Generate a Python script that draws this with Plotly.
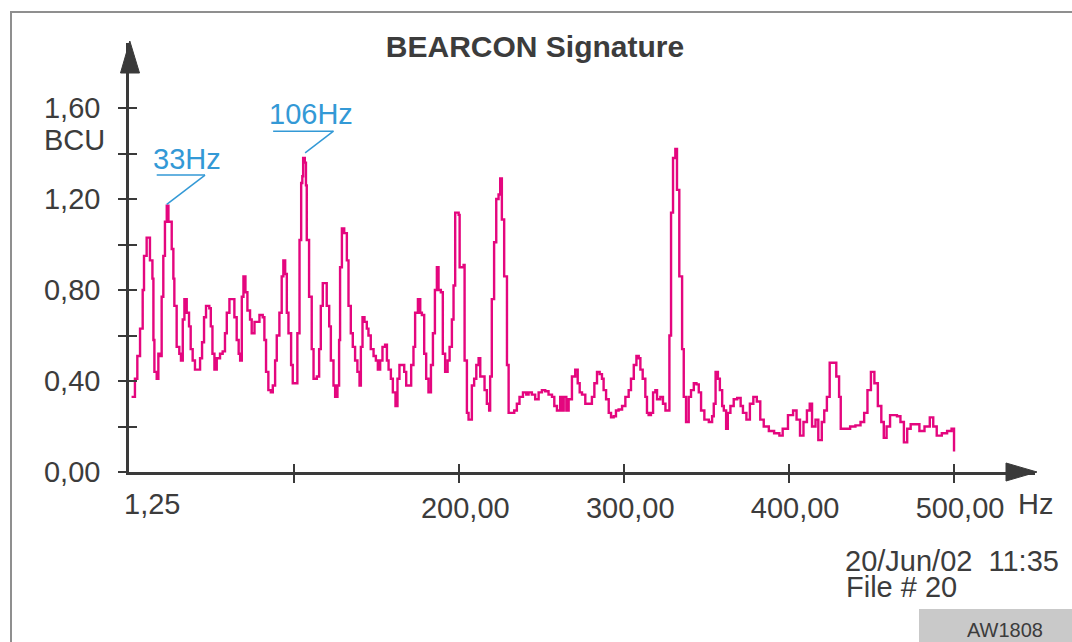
import plotly.graph_objects as go

# ---------------- data ----------------
freq_hz = [
    1.25, 2.3, 3.3, 4.75, 6.4, 8.0, 8.8, 10.4, 12.4, 13.9, 14.5, 15.1, 16.5, 17.5, 18.5, 19.5,
    20.5, 21.5, 22.6, 23.6, 24.6, 25.6, 26.6, 27.2, 28.6, 30.2, 31.2, 32.3, 33.3, 34.7, 36.1,
    37.1, 38.3, 39.7, 41.8, 42.8, 44.0, 45.2, 46.4, 48.4, 49.3, 50.3, 51.5, 52.9, 54.9, 56.5,
    57.9, 59.0, 60.6, 62.0, 63.6, 65.0, 66.2, 67.1, 68.1, 69.1, 70.3, 71.5, 73.1, 74.1, 75.8,
    77.2, 78.8, 80.8, 81.8, 82.8, 84.2, 85.7, 86.9, 88.3, 89.3, 90.9, 92.3, 93.3, 94.4, 95.4,
    96.4, 98.0, 99.0, 100.4, 101.8, 103.1, 104.1, 104.8, 105.3, 106.3, 107.0, 107.5, 108.9,
    110.5, 111.6, 113.6, 115.0, 116.0, 117.2, 118.6, 119.6, 121.1, 122.1, 123.7, 124.7, 126.1,
    127.1, 127.7, 128.8, 130.2, 131.8, 132.8, 134.2, 135.4, 136.8, 138.2, 139.5, 140.3, 141.3,
    142.5, 143.9, 144.9, 146.3, 148.0, 149.4, 150.6, 152.0, 153.4, 155.0, 156.1, 157.1, 158.5,
    159.7, 161.3, 162.5, 163.7, 165.2, 166.6, 167.8, 169.4, 170.8, 172.2, 173.2, 174.9, 176.3,
    177.3, 178.7, 179.9, 181.3, 182.8, 184.0, 185.2, 186.4, 187.4, 188.8, 190.0, 191.4, 192.9,
    194.1, 195.5, 196.5, 197.5, 199.6, 200.2, 202.6, 203.2, 204.6, 205.6, 207.6, 209.0, 210.3,
    211.7, 212.7, 215.3, 216.7, 218.1, 218.7, 219.7, 221.1, 222.4, 223.8, 224.8, 225.8, 227.2,
    228.9, 229.9, 231.9, 233.3, 234.9, 236.5, 238.6, 240.6, 242.0, 244.0, 246.0, 248.1, 250.1,
    252.1, 254.1, 256.2, 257.6, 259.2, 261.2, 262.2, 263.3, 264.9, 266.3, 268.3, 270.3, 271.8,
    273.0, 274.4, 276.4, 278.4, 280.4, 281.9, 283.5, 285.1, 286.5, 287.5, 289.0, 290.6, 292.0,
    293.6, 295.0, 296.6, 298.7, 300.7, 302.7, 304.1, 305.8, 307.4, 308.8, 309.8, 311.2, 312.8,
    313.8, 314.8, 316.2, 317.5, 318.9, 319.9, 321.9, 323.5, 325.0, 326.6, 327.4, 328.4, 329.6,
    331.0, 332.0, 333.4, 335.1, 336.1, 337.5, 339.1, 340.5, 342.2, 343.8, 345.2, 346.6, 348.6,
    351.3, 353.3, 354.3, 355.4, 356.8, 358.0, 359.4, 360.4, 361.8, 362.8, 364.4, 366.4, 368.5,
    370.6, 372.0, 374.1, 376.2, 378.3, 380.4, 382.5, 384.6, 387.7, 390.9, 394.1, 396.1, 399.3,
    402.4, 404.5, 406.6, 408.7, 410.8, 412.5, 413.9, 416.0, 417.7, 419.8, 421.3, 422.9, 424.6,
    426.5, 428.6, 430.3, 431.3, 433.9, 437.0, 440.2, 443.3, 445.5, 447.5, 449.6, 451.7, 453.8,
    455.9, 457.4, 459.1, 461.2, 463.2, 465.4, 467.5, 469.6, 471.6, 473.7, 476.9, 479.0, 482.1,
    485.3, 487.4, 489.5, 492.6, 495.8, 498.5, 500.0,
]
bcu = [
    0.33, 0.33, 0.41, 0.51, 0.63, 0.80, 0.95, 1.03, 0.93, 0.85, 0.58, 0.44, 0.41, 0.52, 0.51, 0.77,
    0.95, 1.10, 1.17, 1.10, 1.10, 0.98, 0.85, 0.73, 0.55, 0.52, 0.49, 0.67, 0.76, 0.70, 0.64,
    0.54, 0.49, 0.45, 0.45, 0.50, 0.57, 0.68, 0.73, 0.72, 0.64, 0.52, 0.45, 0.50, 0.52, 0.53,
    0.61, 0.70, 0.76, 0.76, 0.68, 0.58, 0.52, 0.49, 0.77, 0.86, 0.79, 0.71, 0.67, 0.61, 0.66,
    0.66, 0.69, 0.68, 0.58, 0.44, 0.36, 0.35, 0.38, 0.49, 0.60, 0.70, 0.86, 0.93, 0.87, 0.70,
    0.61, 0.47, 0.39, 0.39, 0.61, 1.02, 1.27, 1.30, 1.38, 1.36, 1.26, 1.02, 0.77,
    0.54, 0.41, 0.42, 0.54, 0.73, 0.83, 0.83, 0.73, 0.64, 0.49, 0.38, 0.33, 0.38,
    0.58, 0.90, 1.07, 1.05, 0.93, 0.73, 0.61, 0.55, 0.49, 0.44, 0.38, 0.55, 0.68,
    0.66, 0.63, 0.60, 0.54, 0.51, 0.49, 0.45, 0.49, 0.55, 0.56, 0.49, 0.45, 0.41,
    0.35, 0.29, 0.41, 0.47, 0.47, 0.44, 0.38, 0.38, 0.47, 0.55, 0.70, 0.76, 0.70,
    0.69, 0.52, 0.41, 0.35, 0.47, 0.61, 0.80, 0.90, 0.80, 0.79, 0.52, 0.44, 0.49,
    0.55, 0.67, 0.82, 1.14, 1.13, 0.90, 0.91, 0.49, 0.26, 0.23, 0.38, 0.41, 0.47,
    0.50, 0.42, 0.36, 0.30, 0.27, 0.42, 0.76, 1.01, 1.20, 1.22, 1.29, 1.11, 0.86,
    0.47, 0.26, 0.26, 0.27, 0.30, 0.33, 0.35, 0.34, 0.35, 0.34, 0.32, 0.35, 0.36,
    0.355, 0.34, 0.33, 0.29, 0.27, 0.33, 0.27, 0.33, 0.27, 0.32, 0.42, 0.45, 0.39,
    0.35, 0.34, 0.30, 0.30, 0.33, 0.39, 0.44, 0.43, 0.41, 0.36, 0.32, 0.26, 0.24,
    0.245, 0.27, 0.275, 0.29, 0.33, 0.36, 0.41, 0.47, 0.51, 0.50, 0.45, 0.41, 0.33,
    0.26, 0.25, 0.26, 0.35, 0.36, 0.32, 0.33, 0.30, 0.27, 0.27, 0.60, 1.14, 1.38,
    1.42, 1.24, 0.86, 0.54, 0.33, 0.22, 0.33, 0.36, 0.39, 0.385, 0.35, 0.27, 0.23,
    0.22, 0.245, 0.30, 0.44, 0.41, 0.36, 0.29, 0.27, 0.19, 0.26, 0.29, 0.32, 0.325,
    0.29, 0.26, 0.23, 0.30, 0.33, 0.31, 0.23, 0.20, 0.18, 0.17, 0.16, 0.19, 0.25,
    0.27, 0.23, 0.16, 0.22, 0.27, 0.30, 0.20, 0.23, 0.14, 0.22, 0.27, 0.33, 0.48,
    0.48, 0.42, 0.33, 0.19, 0.19, 0.20, 0.205, 0.22, 0.26, 0.36, 0.44, 0.39, 0.29,
    0.22, 0.15, 0.20, 0.25, 0.25, 0.245, 0.22, 0.13, 0.19, 0.21, 0.21, 0.18, 0.20,
    0.24, 0.20, 0.16, 0.17, 0.18, 0.19, 0.09,
]

y_tick_vals = [0.0, 0.2, 0.4, 0.6, 0.8, 1.0, 1.2, 1.4, 1.6]
y_tick_text = ["0,00", "", "0,40", "", "0,80", "", "1,20", "", "1,60"]
x_tick_vals = [100, 200, 300, 400, 500]
x_tick_text = ["", "200,00", "300,00", "400,00", "500,00"]

# peak call-outs: label, text centre (Hz, BCU), underline start/end Hz, underline level, peak point
callouts = [
    ("33Hz", 34.7, 1.377, 16.5, 45.8, 1.305, 22.6, 1.176),
    ("106Hz", 110.0, 1.575, 87.1, 123.7, 1.498, 106.5, 1.403),
]

# ---------------- style ----------------
W, H = 1072, 642
ML, MR, MT, MB = 129, 37, 43, 170
PW, PH = W - ML - MR, H - MT - MB
X_RANGE = [-0.303, 549.1]
Y_RANGE = [0.0, 1.8857]

AX = "#3a3a3a"
TXT = "#3c3c3c"
LBL = "Liberation Sans, Arial, sans-serif"
SANS = "Liberation Sans, Arial, sans-serif"
FS = 29
TRACE = "#E4067E"
BLUE = "#3399D6"


def px(xp):
    return (xp - ML) / PW


def py(yp):
    return (H - MB - yp) / PH


fig = go.Figure()
fig.add_trace(go.Scatter(
    x=freq_hz, y=bcu, mode="lines",
    line=dict(color=TRACE, width=2.4, shape="hv"),
    hoverinfo="skip", showlegend=False,
))
# invisible trace carrying the overlay axes (inner half of the tick marks)
fig.add_trace(go.Scatter(
    x=[X_RANGE[0]], y=[Y_RANGE[0]], xaxis="x2", yaxis="y2", mode="markers",
    marker=dict(opacity=0), hoverinfo="skip", showlegend=False,
))

common = dict(showgrid=False, zeroline=False)
fig.update_layout(
    width=W, height=H,
    margin=dict(l=ML, r=MR, t=MT, b=MB, pad=0),
    paper_bgcolor="white", plot_bgcolor="white",
    showlegend=False,
    title=dict(text="<b>BEARCON Signature</b>", x=535 / W, xanchor="center",
               xref="container", yref="container", y=1 - 46 / H, yanchor="middle",
               font=dict(family=SANS, size=30, color=TXT)),
    xaxis=dict(range=X_RANGE, showline=True, linecolor=AX, linewidth=2.5,
               tickmode="array", tickvals=x_tick_vals, ticktext=x_tick_text,
               ticks="outside", ticklen=8, tickwidth=2, tickcolor=AX,
               ticklabelshift=6, ticklabelstandoff=0,
               tickfont=dict(family=LBL, size=FS, color=TXT), **common),
    yaxis=dict(range=Y_RANGE, showline=True, linecolor=AX, linewidth=2.5,
               tickmode="array", tickvals=y_tick_vals, ticktext=y_tick_text,
               ticks="outside", ticklen=8, tickwidth=2, tickcolor=AX,
               ticklabelstandoff=12,
               tickfont=dict(family=LBL, size=FS, color=TXT), **common),
    xaxis2=dict(range=X_RANGE, overlaying="x", anchor="y2", side="bottom",
                tickmode="array", tickvals=x_tick_vals, ticks="inside", ticklen=8,
                tickwidth=2, tickcolor=AX, showticklabels=False, showline=False, **common),
    yaxis2=dict(range=Y_RANGE, overlaying="y", anchor="x2", side="left",
                tickmode="array", tickvals=y_tick_vals[1:], ticks="inside", ticklen=8,
                tickwidth=2, tickcolor=AX, showticklabels=False, showline=False, **common),
)

shapes = []
# outer frame
shapes.append(dict(type="rect", xref="paper", yref="paper",
                   x0=px(11), x1=px(1090), y0=py(12), y1=py(700),
                   line=dict(color="#8f8f8f", width=2), fillcolor="rgba(0,0,0,0)", layer="below"))
# axis arrow heads
shapes.append(dict(type="path", xref="paper", yref="paper",
                   path=f"M {px(129.8)} {py(41)} L {px(120.5)} {py(73)} L {px(139.5)} {py(73)} Z",
                   fillcolor=AX, line=dict(color=AX, width=1)))
shapes.append(dict(type="path", xref="paper", yref="paper",
                   path=f"M {px(1037)} {py(472)} L {px(1006)} {py(463)} L {px(1006)} {py(481)} Z",
                   fillcolor=AX, line=dict(color=AX, width=1)))
# AW1808 box
shapes.append(dict(type="rect", xref="paper", yref="paper",
                   x0=px(919), x1=px(1080), y0=py(609), y1=py(650),
                   fillcolor="#c9c9c9", line=dict(width=0)))

annotations = []
for label, tx, ty, u0, u1, uy, pkx, pky in callouts:
    shapes.append(dict(type="line", xref="x", yref="y", x0=u0, x1=u1, y0=uy, y1=uy,
                       line=dict(color=BLUE, width=1.5)))
    shapes.append(dict(type="line", xref="x", yref="y", x0=u1, x1=pkx, y0=uy, y1=pky,
                       line=dict(color=BLUE, width=1.5)))
    annotations.append(dict(text=label, x=tx, y=ty, xref="x", yref="y", showarrow=False,
                            xanchor="center", yanchor="middle",
                            font=dict(family=LBL, size=FS, color=BLUE)))

annotations += [
    dict(text="BCU", x=px(107), y=py(140), xref="paper", yref="paper", showarrow=False,
         xanchor="right", yanchor="middle", font=dict(family=LBL, size=FS, color=TXT)),
    dict(text="1,25", x=px(122), y=py(504), xref="paper", yref="paper", showarrow=False,
         xanchor="left", yanchor="middle", font=dict(family=LBL, size=FS, color=TXT)),
    dict(text="Hz", x=px(1016), y=py(504), xref="paper", yref="paper", showarrow=False,
         xanchor="left", yanchor="middle", font=dict(family=LBL, size=FS, color=TXT)),
    dict(text="20/Jun/02\u00a0\u00a011:35", x=px(843), y=py(561), xref="paper", yref="paper",
         showarrow=False, xanchor="left", yanchor="middle",
         font=dict(family=LBL, size=FS, color=TXT)),
    dict(text="File # 20", x=px(844), y=py(587), xref="paper", yref="paper",
         showarrow=False, xanchor="left", yanchor="middle",
         font=dict(family=LBL, size=FS, color=TXT)),
    dict(text="AW1808", x=px(1005), y=py(630), xref="paper", yref="paper",
         showarrow=False, xanchor="center", yanchor="middle",
         font=dict(family=SANS, size=20, color=TXT)),
]

fig.update_layout(shapes=shapes, annotations=annotations)
fig.write_html("out.html")
